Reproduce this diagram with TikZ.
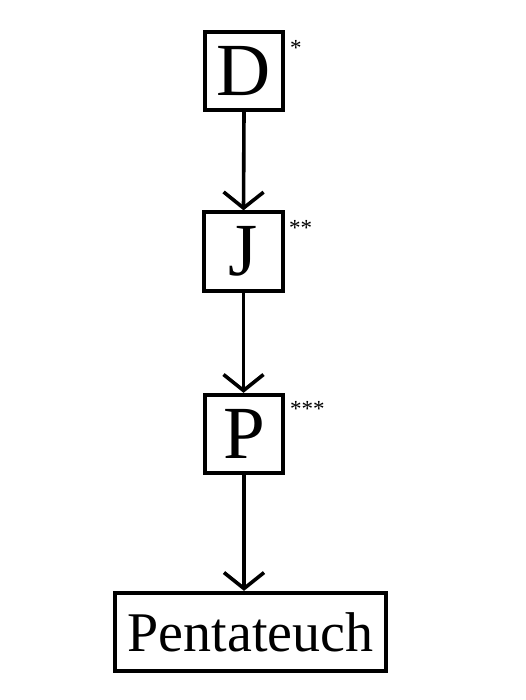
\documentclass[tikz,border=0pt]{standalone}
\usepackage{fontspec}
\setmainfont{Liberation Serif}
\usetikzlibrary{arrows.meta}
\begin{document}
\begin{tikzpicture}[x=1pt,y=-1pt,
  letterbox/.style={draw, line width=3.8pt, minimum width=78.5pt, minimum height=78.5pt, inner sep=0pt, font=\fontsize{75}{80}\selectfont},
  widebox/.style={draw, line width=3.8pt, minimum width=271.5pt, minimum height=78.5pt, inner sep=0pt, font=\fontsize{56}{60}\selectfont},
  star/.style={anchor=base west, inner sep=0pt, font=\fontsize{23}{25}\selectfont},
  flow/.style={line width=3.6pt, -{Straight Barb[length=16pt,width=40pt,line width=3.6pt]}}]
\useasboundingbox (0,0) rectangle (525,700);
\node[letterbox] (D) at (244,71) {D};
\node[letterbox] (J) at (243.5,251.5) {J};
\node[letterbox] (P) at (244,434) {P};
\node[widebox] (Pt) at (250.5,632) {Pentateuch};
\node[star] (sD) at (290,56) {*};
\node[star] (sJ) at (289,236) {**};
\node[star] (sP) at (290,416) {***};
\draw[flow] (D.south) -- (J.north);
\draw[flow] (J.south) -- (J.north |- P.north);
\draw[flow] (P.south) -- (P.south |- Pt.north);
\end{tikzpicture}
\end{document}
